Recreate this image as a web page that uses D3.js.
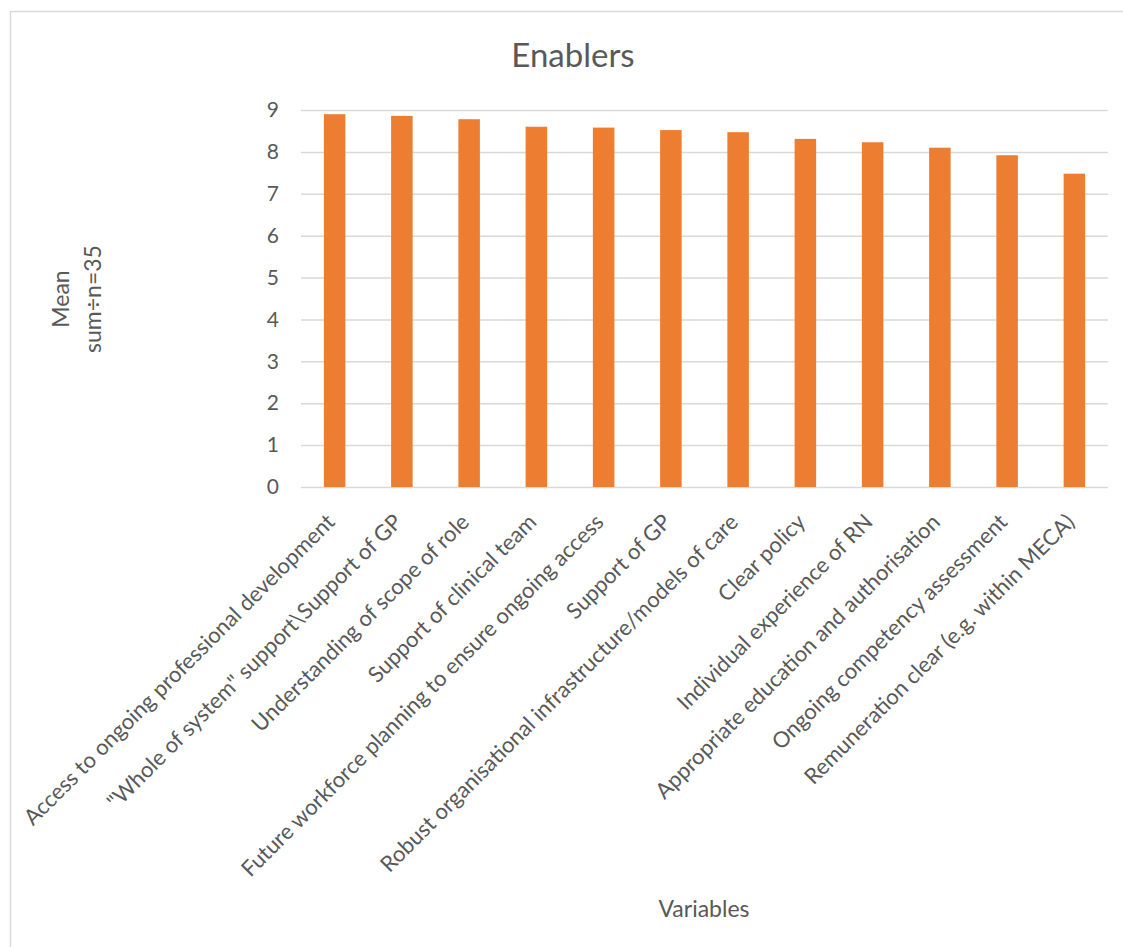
<!DOCTYPE html>
<html lang="en">
<head>
  <meta charset="UTF-8">
  <title>Enablers</title>
  <style>
    body { margin: 0; background: #fff; overflow: hidden; }
    svg { display: block; }
    text { font-family: Lato, "Open Sans", sans-serif; fill: #595959; }
    .grid line { stroke: #d9d9d9; stroke-width: 1.5px; }
  </style>
  <script src="https://cdn.jsdelivr.net/npm/d3@7"></script>
</head>
<body>
<div class="main"></div>
<script>

var categories = [
  "Access to ongoing professional development",
  "\"Whole of system\" support\\Support of GP",
  "Understanding of scope of role",
  "Support of clinical team",
  "Future workforce planning to ensure ongoing access",
  "Support of GP",
  "Robust organisational infrastructure/models of care",
  "Clear policy",
  "Individual experience of RN",
  "Appropriate education and authorisation",
  "Ongoing competency assessment",
  "Remuneration clear (e.g. within MECA)"
];
var means = [8.90, 8.86, 8.78, 8.60, 8.58, 8.52, 8.47, 8.31, 8.23, 8.10, 7.92, 7.48];
var yTicks = [0, 1, 2, 3, 4, 5, 6, 7, 8, 9];

var width = 1123,
    height = 947;
var plot = { left: 301, right: 1108, top: 110, bottom: 487 };

var svg = d3.select(".main").append("svg")
    .attr("width", width)
    .attr("height", height);

// chart frame: only the left and top edges are inside the picture
svg.append("path")
    .attr("d", "M10.5," + height + "V11.5H" + width)
    .attr("fill", "none")
    .attr("stroke", "#d9d9d9")
    .attr("stroke-width", 1.5);

var x = d3.scaleBand()
    .domain(categories)
    .range([plot.left, plot.right])
    .paddingInner(0.68)
    .paddingOuter(0.34);

var y = d3.scaleLinear()
    .domain([0, 9])
    .range([plot.bottom, plot.top]);

// gridlines + y tick labels
var yAxis = d3.axisLeft(y)
    .tickValues(yTicks)
    .tickSize(-(plot.right - plot.left))
    .tickPadding(22)
    .tickFormat(d3.format("d"));

var gy = svg.append("g")
    .attr("class", "grid")
    .attr("transform", "translate(" + plot.left + ",0)")
    .call(yAxis);
gy.select(".domain").remove();
gy.selectAll("text")
    .style("font-size", "21px")
    .attr("fill", "#595959");

// bars
svg.selectAll("rect.bar")
    .data(means)
  .enter().append("rect")
    .attr("class", "bar")
    .attr("x", function(d, i) { return x(categories[i]); })
    .attr("y", function(d) { return y(d); })
    .attr("width", x.bandwidth())
    .attr("height", function(d) { return y(0) - y(d); })
    .attr("fill", "#ed7d31");

// category labels
svg.selectAll("text.cat")
    .data(categories)
  .enter().append("text")
    .attr("class", "cat")
    .attr("transform", function(d) {
      var cx = x(d) + x.bandwidth() / 2;
      return "translate(" + (cx - 4) + "," + (plot.bottom + 31) + ") rotate(-45)";
    })
    .attr("text-anchor", "end")
    .attr("dy", "0.35em")
    .style("font-size", "22px")
    .text(function(d) { return d; });

// title
svg.append("text")
    .attr("x", 573).attr("y", 67)
    .attr("text-anchor", "middle")
    .style("font-size", "33px")
    .text("Enablers");

// x axis title
svg.append("text")
    .attr("x", 704).attr("y", 917)
    .attr("text-anchor", "middle")
    .style("font-size", "23px")
    .text("Variables");

// y axis title
var yt = svg.append("text")
    .attr("transform", "translate(77,299) rotate(-90)")
    .attr("text-anchor", "middle")
    .style("font-size", "23px");
yt.append("tspan").attr("x", 0).attr("dy", "-0.35em").text("Mean");
yt.append("tspan").attr("x", 0).attr("dy", "1.4em").text("sum\u00f7n=35");

</script>
</body>
</html>
